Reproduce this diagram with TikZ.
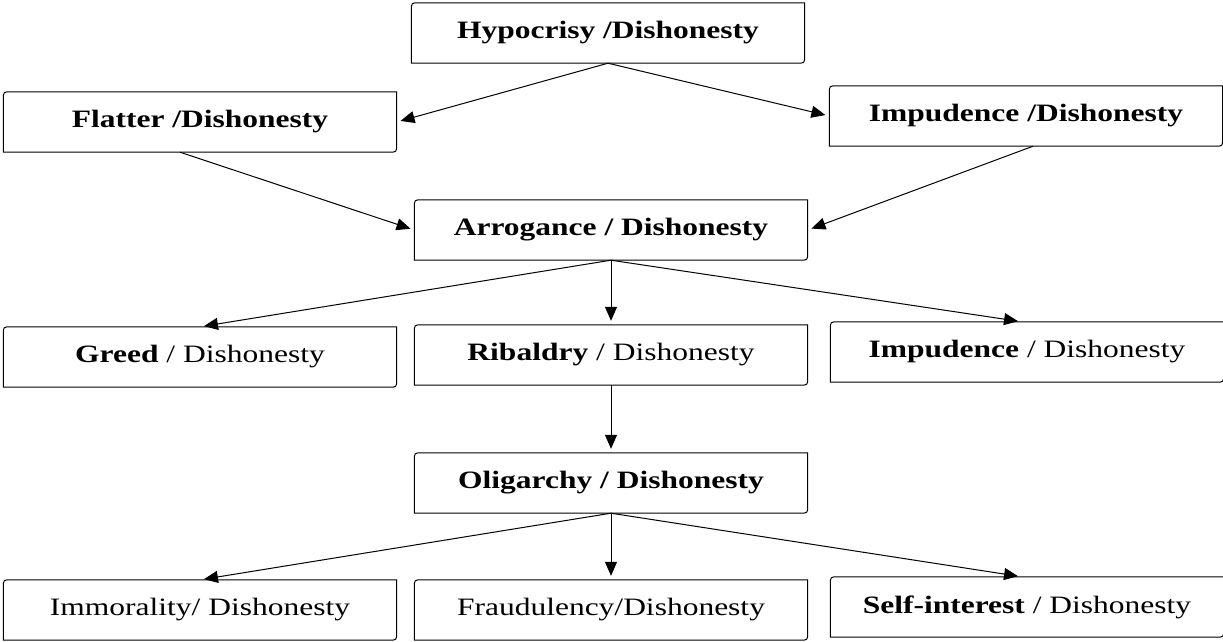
\documentclass[tikz,border=0pt]{standalone}
\usepackage{fontspec}
\usepackage{graphicx}
\setmainfont{Liberation Serif}
\usetikzlibrary{arrows.meta}
\newcommand{\wide}[1]{\scalebox{1.26}[1]{#1}}
\tikzset{
  vbox/.style={minimum width=393pt, minimum height=60pt, inner sep=0pt,
    font=\fontsize{25}{28}\selectfont},
  link/.style={-{Triangle[length=14pt,width=12pt]}, line width=1pt, shorten >=4pt}
}
\begin{document}
\begin{tikzpicture}[x=1pt,y=-1pt]
    \useasboundingbox (0,0) rectangle (1223,641);
    \node[vbox] (hyp) at (608,33) {\wide{\textbf{Hypocrisy /Dishonesty}}};
    \node[vbox] (fla) at (200,122) {\wide{\textbf{Flatter /Dishonesty}}};
    \node[vbox] (imp) at (1026,116) {\wide{\textbf{Impudence /Dishonesty}}};
    \node[vbox] (arr) at (611,230) {\wide{\textbf{Arrogance / Dishonesty}}};
    \node[vbox] (gre) at (200,357) {\wide{\textbf{Greed} / Dishonesty}};
    \node[vbox] (rib) at (611,355) {\wide{\textbf{Ribaldry} / Dishonesty}};
    \node[vbox] (imq) at (1027,352) {\wide{\textbf{Impudence} / Dishonesty}};
    \node[vbox] (oli) at (611,483) {\wide{\textbf{Oligarchy / Dishonesty}}};
    \node[vbox] (imm) at (200,610) {\wide{Immorality/ Dishonesty}};
    \node[vbox] (fra) at (611,610) {\wide{Fraudulency/Dishonesty}};
    \node[vbox] (sel) at (1027,607) {\wide{\textbf{Self-interest} / Dishonesty}};
    \foreach \n in {hyp,fla,imp,arr,gre,rib,imq,oli,imm,fra,sel}
        \draw[line width=1pt] (\n.south west) -- ([yshift=-8pt]\n.north west)
            .. controls (\n.north west) .. ([xshift=8pt]\n.north west)
            -- (\n.north east) -- ([yshift=8pt]\n.south east)
            .. controls (\n.south east) .. ([xshift=-8pt]\n.south east) -- cycle;
    \draw[link] (hyp.south) -- (fla.east);
    \draw[link] (hyp.south) -- (imp.west);
    \draw[link] ([xshift=-20pt]fla.south) -- (arr.west);
    \draw[link] ([xshift=7pt]imp.south) -- (arr.east);
    \draw[link] (arr.south) -- (gre.north);
    \draw[link] (arr.south) -- (rib.north);
    \draw[link] (arr.south) -- ([xshift=-5pt]imq.north);
    \draw[link] (rib.south) -- (oli.north);
    \draw[link] (oli.south) -- (imm.north);
    \draw[link] (oli.south) -- (fra.north);
    \draw[link] (oli.south) -- ([xshift=-5pt]sel.north);
\end{tikzpicture}
\end{document}
